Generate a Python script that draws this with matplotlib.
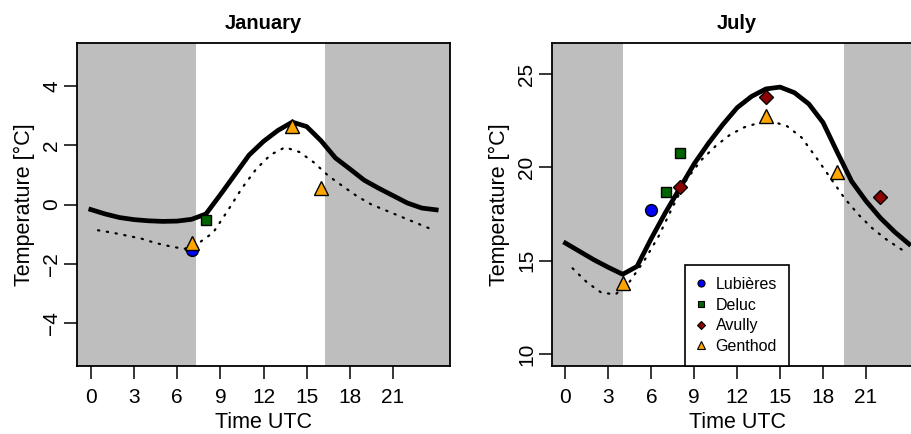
import numpy as np
import matplotlib
matplotlib.use('Agg')
import matplotlib.pyplot as plt

plt.rcParams['font.family'] = ['Liberation Sans', 'DejaVu Sans']

hours = np.arange(0, 25)
half_hours = np.arange(0.5, 24, 1.0)

# January
jan_model = [-0.17, -0.32, -0.44, -0.51, -0.55, -0.57, -0.56, -0.50, -0.32, 0.33,
             1.0, 1.67, 2.13, 2.5, 2.78, 2.63, 2.15, 1.57, 1.2, 0.82,
             0.55, 0.3, 0.05, -0.12, -0.18]
jan_dotted = [-0.87, -0.95, -1.05, -1.15, -1.3, -1.41, -1.5, -1.3, -0.95, -0.22,
              0.55, 1.2, 1.68, 1.93, 1.77, 1.42, 0.97, 0.62, 0.28, 0.0,
              -0.2, -0.4, -0.6, -0.8]
jan_sun = (7.3, 16.3)
jan_obs = {
    'Lubières': ([7], [-1.55]),
    'Deluc': ([8], [-0.52]),
    'Avully': ([], []),
    'Genthod': ([7, 14, 16], [-1.3, 2.65, 0.54]),
}

# July
jul_model = [15.95, 15.5, 15.05, 14.65, 14.28, 14.7, 16.2, 17.6, 18.9, 20.2,
             21.3, 22.3, 23.2, 23.8, 24.2, 24.3, 24.0, 23.4, 22.4, 20.8,
             19.25, 18.2, 17.3, 16.55, 15.9]
jul_dotted = [14.6, 13.85, 13.3, 13.2, 13.9, 15.0, 16.3, 17.9, 19.4, 20.4,
              21.15, 21.75, 22.15, 22.38, 22.45, 22.2, 21.6, 20.55, 19.45, 18.35,
              17.45, 16.7, 16.1, 15.6]
jul_sun = (4.0, 19.45)
jul_obs = {
    'Lubières': ([6], [17.73]),
    'Deluc': ([7, 8], [18.66, 20.77]),
    'Avully': ([8, 14, 22], [18.95, 23.75, 18.39]),
    'Genthod': ([4, 14, 19], [13.8, 22.77, 19.75]),
}

styles = {
    'Lubières': dict(marker='o', color='#0000FF', ms=8.5),
    'Deluc': dict(marker='s', color='#006400', ms=7.5),
    'Avully': dict(marker='D', color='#8B0000', ms=7),
    'Genthod': dict(marker='^', color='#FFA500', ms=10.5),
}

fig = plt.figure(figsize=(9.12, 4.34), dpi=100)
ax1 = fig.add_axes([77 / 912, 68 / 434, 373 / 912, 323 / 434])
ax2 = fig.add_axes([551.7 / 912, 68 / 434, 371 / 912, 323 / 434])


def draw(ax, title, model, dotted, sun, obs, ylim, yticks):
    xlim = (-0.96, 24.96)
    ax.set_xlim(xlim)
    ax.set_ylim(ylim)
    ax.axvspan(xlim[0], sun[0], color='#BEBEBE', lw=0, zorder=0)
    ax.axvspan(sun[1], xlim[1], color='#BEBEBE', lw=0, zorder=0)
    ax.plot(hours, model, color='black', lw=3.4, zorder=2, solid_joinstyle='round')
    ax.plot(half_hours, dotted, color='black', lw=1.6, ls=(0, (0.6, 3.4)),
            dash_capstyle='round', zorder=2)
    for name in ['Lubières', 'Deluc', 'Avully', 'Genthod']:
        x, y = obs[name]
        st = styles[name]
        ax.plot(x, y, ls='none', marker=st['marker'], ms=st['ms'],
                mfc=st['color'], mec='black', mew=1.0, zorder=3)
    ax.set_xticks([0, 3, 6, 9, 12, 15, 18, 21])
    ax.set_yticks(yticks)
    ax.tick_params(direction='out', length=9.7, width=1.1, labelsize=15)
    ax.tick_params(axis='x', pad=6)
    ax.tick_params(axis='y', pad=1.5)
    for lab in ax.get_yticklabels():
        lab.set_rotation(90)
        lab.set_va('center')
    for sp in ax.spines.values():
        sp.set_linewidth(1.3)
    ax.set_title(title, fontsize=14.5, fontweight='bold', pad=10)
    ax.set_xlabel('Time UTC', fontsize=15.5, labelpad=4)
    ax.set_ylabel('Temperature [°C]', fontsize=15.5, labelpad=5)


draw(ax1, 'January', jan_model, jan_dotted, jan_sun, jan_obs, (-5.45, 5.45), [-4, -2, 0, 2, 4])
draw(ax2, 'July', jul_model, jul_dotted, jul_sun, jul_obs, (9.37, 26.66), [10, 15, 20, 25])

handles = []
for name in ['Lubières', 'Deluc', 'Avully', 'Genthod']:
    st = styles[name]
    h, = ax2.plot([], [], ls='none', marker=st['marker'], ms=st['ms'] * 0.6,
                  mfc=st['color'], mec='black', mew=0.8, label=name)
    handles.append(h)
leg = ax2.legend(handles=handles, loc='lower center', bbox_to_anchor=(0.5, 0.0),
                 borderaxespad=0, fontsize=11.5, frameon=True, fancybox=False,
                 framealpha=1, edgecolor='black', handlelength=0.4,
                 handletextpad=0.75, labelspacing=0.36, borderpad=0.75)
leg.get_frame().set_linewidth(1.2)
leg.set_zorder(5)

fig.savefig('out.png', dpi=100)
